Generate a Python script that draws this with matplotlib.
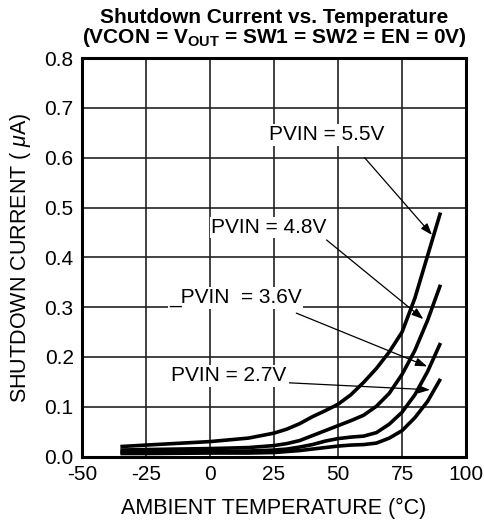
import numpy as np
import matplotlib.pyplot as plt

plt.rcParams['font.family'] = ['Liberation Sans', 'DejaVu Sans']
plt.rcParams['mathtext.fontset'] = 'custom'
plt.rcParams['mathtext.rm'] = 'Liberation Sans'
plt.rcParams['mathtext.bf'] = 'Liberation Sans:bold'
plt.rcParams['mathtext.it'] = 'Liberation Sans:italic'
plt.rcParams['axes.unicode_minus'] = False

# temperature points (°C) and shutdown current (uA) per supply voltage
temp = [-35, -25, 0, 15, 25, 30, 35, 40, 45, 50, 55, 60, 65, 70, 75, 80, 85, 90]
i_55 = [0.020, 0.023, 0.030, 0.037, 0.047, 0.055, 0.066, 0.080, 0.092, 0.105, 0.124, 0.149, 0.177, 0.210, 0.250, 0.318, 0.404, 0.490]
i_48 = [0.013, 0.014, 0.016, 0.018, 0.022, 0.026, 0.032, 0.042, 0.052, 0.062, 0.072, 0.083, 0.101, 0.127, 0.165, 0.213, 0.274, 0.345]
i_36 = [0.009, 0.009, 0.010, 0.011, 0.013, 0.015, 0.019, 0.024, 0.031, 0.036, 0.039, 0.041, 0.048, 0.065, 0.089, 0.124, 0.171, 0.228]
i_27 = [0.006, 0.006, 0.007, 0.007, 0.008, 0.010, 0.012, 0.015, 0.018, 0.021, 0.023, 0.024, 0.027, 0.037, 0.052, 0.078, 0.111, 0.156]

x_ticks = [-50, -25, 0, 25, 50, 75, 100]
y_ticks = [0.0, 0.1, 0.2, 0.3, 0.4, 0.5, 0.6, 0.7, 0.8]

fig = plt.figure(figsize=(4.85, 5.29), dpi=100)
ax = fig.add_axes([0.169, 0.137, 0.792, 0.753])

for cur in (i_55, i_48, i_36, i_27):
    ax.plot(temp, cur, color='black', lw=2.6, solid_capstyle='butt',
            solid_joinstyle='round', zorder=3)

ax.set_xlim(-50, 100)
ax.set_ylim(0, 0.8)
ax.set_xticks(x_ticks)
ax.set_yticks(y_ticks)
ax.set_yticklabels([f'{v:.1f}' for v in y_ticks])
ax.tick_params(length=0, labelsize=15, pad=6)
ax.grid(True, color='#222222', lw=1.2)
ax.set_axisbelow(True)
for sp in ax.spines.values():
    sp.set_linewidth(2.2)

ax.set_xlabel('AMBIENT TEMPERATURE (°C)', fontsize=15.5, labelpad=10)
ax.set_ylabel('SHUTDOWN CURRENT ( $\\mathit{\\mu}$A)', fontsize=15.5, labelpad=8)

fig.text(0.565, 0.985, 'Shutdown Current vs. Temperature\n'
         '(VCON = V$_{\\mathbf{OUT}}$ = SW1 = SW2 = EN = 0V)',
         ha='center', va='top', fontsize=15, fontweight='bold', linespacing=0.95)

# labels with leader arrows
notes = [
    ('PVIN = 5.5V', (23, 0.646), (60.4, 0.60), (86.7, 0.445)),
    ('PVIN = 4.8V', (0.4, 0.46), (45.5, 0.435), (83.3, 0.276)),
    ('_PVIN  = 3.6V', (-16, 0.319), (33.7, 0.288), (84.8, 0.181)),
    ('PVIN = 2.7V', (-15.3, 0.162), (31, 0.148), (85.9, 0.134)),
]
box = dict(facecolor='white', edgecolor='none', pad=1)
for txt, pos, start, tip in notes:
    ax.text(pos[0], pos[1], txt, fontsize=15, ha='left', va='center', bbox=box, zorder=4)
    ax.annotate('', xy=tip, xytext=start,
                arrowprops=dict(arrowstyle='-|>,head_length=0.7,head_width=0.25',
                                color='black', lw=0.9, shrinkA=0, shrinkB=0),
                zorder=5)

fig.savefig('out.png', dpi=100)
